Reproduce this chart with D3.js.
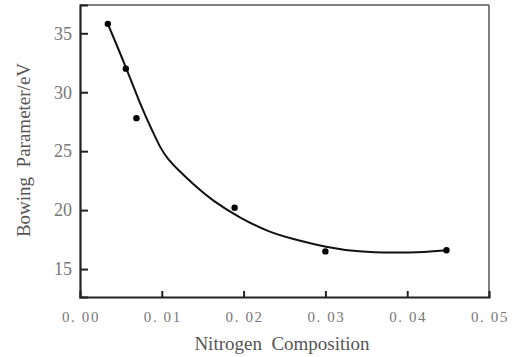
<!DOCTYPE html>
<html><head><meta charset="utf-8">
<script src="https://cdn.jsdelivr.net/npm/d3@7/dist/d3.min.js"></script>
<style>body{margin:0;background:#fff}svg{display:block}</style>
</head><body>
<script>
// Measured points
const pointX = [0.0034, 0.0056, 0.0069, 0.0189, 0.0300, 0.0448];
const pointY = [35.8, 32.0, 27.8, 20.2, 16.5, 16.6];
// Fitted curve
const curveX = [0.0034, 0.0057, 0.0077, 0.0088, 0.0098, 0.0106, 0.0120, 0.0140, 0.0161, 0.0195, 0.0232, 0.0260, 0.0301, 0.0341, 0.0382, 0.0423, 0.0449];
const curveY = [35.8, 32.0, 28.4, 26.8, 25.3, 24.45, 23.4, 22.1, 20.85, 19.35, 18.1, 17.55, 16.85, 16.45, 16.37, 16.44, 16.6];
const xTicks = [0, 0.01, 0.02, 0.03, 0.04, 0.05];
const xTickLabels = ["0. 00", "0. 01", "0. 02", "0. 03", "0. 04", "0. 05"];
const yTicks = [15, 20, 25, 30, 35];
const xTitle = "Nitrogen\u00a0\u00a0Composition";
const yTitle = "Bowing\u00a0\u00a0Parameter/eV";

const W = 515, H = 357;
const L = 80, R = 489, T = 5, B = 297;
const svg = d3.select("body").append("svg").attr("width", W).attr("height", H);
const x = d3.scaleLinear().domain([0, 0.05]).range([L, R]);
const y = d3.scaleLinear().domain([12.63, 37.4]).range([B, T]);

// frame top/right
svg.append("line").attr("x1", L).attr("x2", R).attr("y1", T).attr("y2", T).attr("stroke", "#555").attr("stroke-width", 1.5);
svg.append("line").attr("x1", R).attr("x2", R).attr("y1", T).attr("y2", B).attr("stroke", "#555").attr("stroke-width", 1.5);

const xAxis = svg.append("g").attr("transform", `translate(0,${B})`)
  .call(d3.axisBottom(x).tickValues(xTicks.slice(1, 5)).tickSize(-6).tickFormat(""));
const yAxis = svg.append("g").attr("transform", `translate(${L},0)`)
  .call(d3.axisLeft(y).tickValues(yTicks).tickSize(-8).tickFormat(""));
[xAxis, yAxis].forEach(g => {
  g.select(".domain").attr("stroke", "#222").attr("stroke-width", 2.2);
  g.selectAll(".tick line").attr("stroke", "#222").attr("stroke-width", 2);
});

svg.append("g").selectAll("text").data(xTicks).join("text")
  .attr("x", d => x(d) + 1).attr("y", 322)
  .attr("text-anchor", "middle")
  .attr("font-family", "'Liberation Serif', 'DejaVu Serif', serif")
  .attr("font-size", 15).attr("letter-spacing", 1.6).attr("fill", "#777")
  .attr("xml:space", "preserve")
  .text((d, i) => xTickLabels[i]);

svg.append("g").selectAll("text").data(yTicks).join("text")
  .attr("x", 72).attr("y", d => y(d)).attr("dy", "0.35em")
  .attr("text-anchor", "end")
  .attr("font-family", "'Liberation Serif', 'DejaVu Serif', serif")
  .attr("font-size", 18).attr("fill", "#777")
  .text(d => d);

svg.append("text").attr("x", 282).attr("y", 350).attr("text-anchor", "middle")
  .attr("font-family", "'Liberation Serif', 'DejaVu Serif', serif")
  .attr("font-size", 19).attr("fill", "#555")
  .text(xTitle);

svg.append("text").attr("transform", "translate(30,150) rotate(-90)").attr("text-anchor", "middle")
  .attr("font-family", "'Liberation Serif', 'DejaVu Serif', serif")
  .attr("font-size", 19).attr("fill", "#555")
  .text(yTitle);

const cdata = curveX.map((d, i) => [d, curveY[i]]);
svg.append("path").datum(cdata)
  .attr("d", d3.line().x(d => x(d[0])).y(d => y(d[1])).curve(d3.curveBasis))
  .attr("fill", "none").attr("stroke", "#111").attr("stroke-width", 2);

svg.append("g").selectAll("circle").data(pointX.map((d, i) => [d, pointY[i]])).join("circle")
  .attr("cx", d => x(d[0])).attr("cy", d => y(d[1])).attr("r", 3.2).attr("fill", "#000");
</script>
</body></html>
